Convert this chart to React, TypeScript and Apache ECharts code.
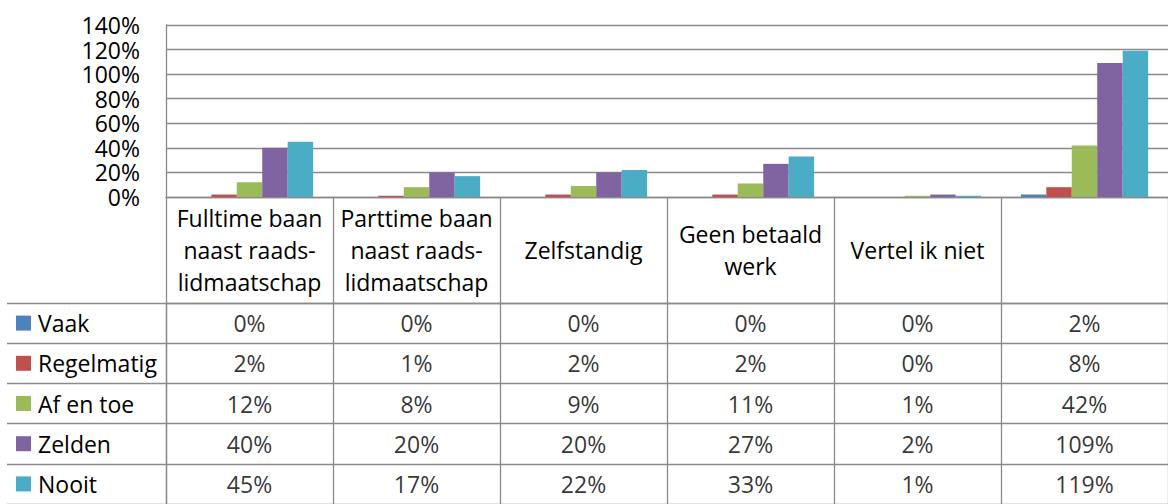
import React, { useEffect, useRef } from "react";
import * as echarts from "echarts";

const categories = [
  "Fulltime baan\nnaast raads-\nlidmaatschap",
  "Parttime baan\nnaast raads-\nlidmaatschap",
  "Zelfstandig",
  "Geen betaald\nwerk",
  "Vertel ik niet",
  "",
];
const seriesNames = ["Vaak", "Regelmatig", "Af en toe", "Zelden", "Nooit"];
const vaak = [0, 0, 0, 0, 0, 2];
const regelmatig = [2, 1, 2, 2, 0, 8];
const afEnToe = [12, 8, 9, 11, 1, 42];
const zelden = [40, 20, 20, 27, 2, 109];
const nooit = [45, 17, 22, 33, 1, 119];
const seriesValues = [vaak, regelmatig, afEnToe, zelden, nooit];
const colors = ["#4F81BD", "#C0504D", "#9BBB59", "#8064A2", "#4BACC6"];
const yTicks = { min: 0, max: 140, interval: 20 };

const FONT = "Open Sans";
const LINE = "#8a8a8a";
const LW = 1.3;

export default function App() {
  const ref = useRef<HTMLDivElement>(null);
  useEffect(() => {
    if (!ref.current) return;
    const chart = echarts.init(ref.current, null, { renderer: "svg" });
    const tableData: any[] = [];
    seriesValues.forEach((vals, i) => {
      vals.forEach((v, j) => tableData.push([j, i, v]));
    });
    const rich: any = {
      t: { fontFamily: FONT, fontSize: 23, color: "#000", padding: [0, 0, 0, 7] },
    };
    seriesNames.forEach((_, i) => {
      rich["s" + i] = { width: 15, height: 15, backgroundColor: colors[i] };
    });
    chart.setOption({
      animation: false,
      textStyle: { fontFamily: FONT },
      grid: [
        { left: 166, top: 25, width: 1008, height: 172, containLabel: false },
        { left: 166, top: 303, width: 1008, height: 208, containLabel: false },
      ],
      xAxis: [
        {
          type: "category",
          gridIndex: 0,
          data: categories,
          axisLine: { show: true, lineStyle: { color: LINE, width: LW } },
          axisTick: { show: true, length: 106, interval: 0, lineStyle: { color: LINE, width: LW } },
          axisLabel: {
            interval: 0,
            margin: 53,
            verticalAlign: "middle",
            fontFamily: FONT,
            fontSize: 23,
            lineHeight: 32,
            color: "#000",
          },
          splitLine: { show: false },
        },
        {
          type: "category",
          gridIndex: 1,
          position: "top",
          data: categories,
          axisLine: { show: true, lineStyle: { color: LINE, width: LW } },
          axisTick: { show: false },
          axisLabel: { show: false },
          splitLine: { show: true, interval: 0, lineStyle: { color: LINE, width: LW } },
        },
      ],
      yAxis: [
        {
          type: "value",
          gridIndex: 0,
          min: yTicks.min,
          max: yTicks.max,
          interval: yTicks.interval,
          axisLine: { show: true, lineStyle: { color: LINE, width: LW } },
          axisTick: { show: false },
          axisLabel: {
            formatter: "{value}%",
            fontFamily: FONT,
            fontSize: 23,
            lineHeight: 23,
            color: "#000",
            margin: 26,
          },
          splitLine: { show: true, lineStyle: { color: LINE, width: LW } },
        },
        {
          type: "category",
          gridIndex: 1,
          inverse: true,
          data: seriesNames,
          axisLine: { show: true, lineStyle: { color: LINE, width: LW } },
          axisTick: { show: true, length: 159, interval: 0, lineStyle: { color: LINE, width: LW } },
          axisLabel: {
            interval: 0,
            align: "left",
            margin: 150,
            formatter: (v: string) => `{s${seriesNames.indexOf(v)}|}{t|${v}}`,
            rich,
          },
          splitLine: { show: true, interval: 0, lineStyle: { color: LINE, width: LW } },
        },
        {
          type: "category",
          gridIndex: 1,
          inverse: true,
          data: seriesNames,
          offset: 159,
          axisLine: { show: true, lineStyle: { color: LINE, width: LW } },
          axisTick: { show: false },
          axisLabel: { show: false },
          splitLine: { show: false },
        },
      ],
      series: [
        ...seriesNames.map((name, i) => ({
          name,
          type: "bar",
          xAxisIndex: 0,
          yAxisIndex: 0,
          data: seriesValues[i],
          barGap: "0%",
          barCategoryGap: "23.8%",
          itemStyle: { color: colors[i] },
        })),
        {
          type: "scatter",
          xAxisIndex: 1,
          yAxisIndex: 1,
          data: tableData,
          symbolSize: 1,
          itemStyle: { color: "transparent" },
          label: {
            show: true,
            position: "inside",
            formatter: (p: any) => p.value[2] + "%",
            fontFamily: FONT,
            fontSize: 23,
            color: "#000",
          },
          silent: true,
        },
      ],
    });
    return () => chart.dispose();
  }, []);
  return (
    <div
      ref={ref}
      style={{ position: "absolute", left: 0, top: 0, width: 1168, height: 504, background: "#fff" }}
    />
  );
}
